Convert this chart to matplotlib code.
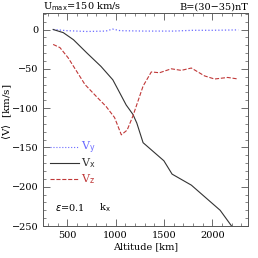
import matplotlib
matplotlib.use("Agg")
import matplotlib.pyplot as plt
from matplotlib.ticker import MultipleLocator

# data
alt_vx = [355, 460, 565, 705, 850, 972, 1024, 1110, 1180, 1220, 1285, 1500, 1585, 1784, 2082, 2200]
vx = [0, -4, -13, -30, -47, -64, -76, -96, -108, -119, -144, -167, -184, -198, -230, -250]

alt_vy = [355, 500, 700, 900, 970, 1050, 1300, 1600, 1800, 2000, 2270]
vy = [0, -1.5, -2.5, -2, 0.5, -1.5, -2, -2, -1, -1, -0.5]

alt_vz = [355, 425, 510, 597, 684, 800, 903, 990, 1060, 1120, 1180, 1285, 1370, 1455, 1577, 1680, 1784, 1920, 2024, 2160, 2270]
vz = [-19, -23, -36, -53, -70, -85, -98, -112, -134, -128, -110, -72, -54, -55, -50, -52, -49, -59, -63, -61, -63]

plt.rcParams['font.family'] = ['DejaVu Serif']
plt.rcParams['font.size'] = 7

fig = plt.figure(figsize=(2.58, 2.58), dpi=100)
ax = fig.add_axes([43 / 258, 1 - 226 / 258, 205 / 258, 213 / 258])

ax.plot(alt_vy, vy, color='#6a6aff', ls=':', lw=0.9)
ax.plot(alt_vx, vx, color='#333333', ls='-', lw=0.8)
ax.plot(alt_vz, vz, color='#c03838', ls='--', lw=0.8)

ax.set_xlim(250, 2370)
ax.set_ylim(-250, 21)
ax.xaxis.set_major_locator(MultipleLocator(500))
ax.xaxis.set_minor_locator(MultipleLocator(100))
ax.yaxis.set_major_locator(MultipleLocator(50))
ax.yaxis.set_minor_locator(MultipleLocator(10))
ax.tick_params(which='both', direction='in', top=True, right=True, color='#555555')
ax.tick_params(which='major', length=5, width=0.6)
ax.tick_params(which='minor', length=2.5, width=0.5)
for s in ax.spines.values():
    s.set_color('#555555')
    s.set_linewidth(0.7)

ax.set_xlabel('Altitude [km]', labelpad=2)
fig.text(7 / 258, 1 - 112 / 258, r'$\langle$V$\rangle$  [km/s]', rotation=90,
         fontsize=7.5, ha='center', va='center')

# legend drawn by hand in data coordinates
leg = [('y', '#6a6aff', ':', -150), ('x', '#333333', '-', -170), ('z', '#c03838', '--', -190)]
for sub, col, ls, yy in leg:
    ax.plot([320, 620], [yy, yy], color=col, ls=ls, lw=0.8)
    ax.text(640, yy, 'V$_{\\rm %s}$' % sub, color=col, fontsize=8, va='center')

ax.text(370, -227, r'$\varepsilon$=0.1', fontsize=7, va='center')
ax.text(830, -227, 'k$_{\\rm x}$', fontsize=7, va='center')

fig.text(43 / 258, 1 - 7 / 258, 'U$_{\\rm max}$=150 km/s', fontsize=7, va='center', ha='left')
fig.text(248 / 258, 1 - 7 / 258, 'B=(30\u221235)nT', fontsize=7, va='center', ha='right')

fig.savefig('out.png', dpi=100)
